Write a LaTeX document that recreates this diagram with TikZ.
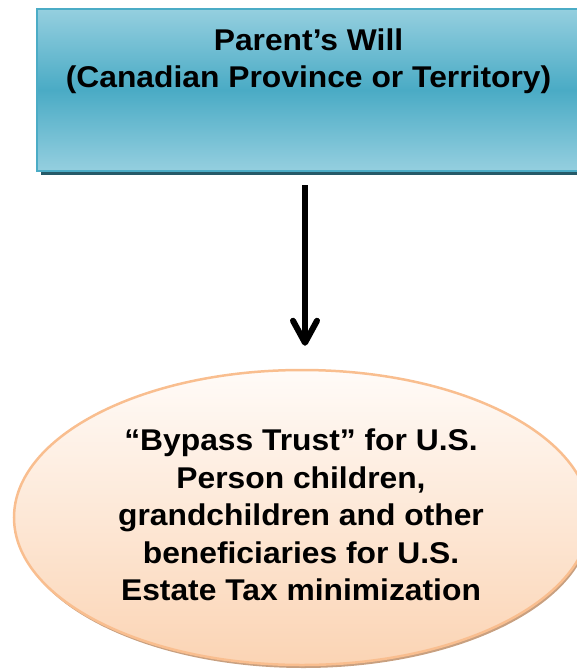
\documentclass[tikz,border=0pt]{standalone}
\usepackage{fontspec}
\setmainfont{Liberation Sans}[FakeStretch=1.06]
\usetikzlibrary{shapes.geometric,arrows.meta,shadows}
\definecolor{boxlight}{RGB}{149,207,223}
\definecolor{boxdark}{RGB}{74,171,197}
\definecolor{boxline}{RGB}{75,172,198}
\definecolor{boxshadow}{RGB}{38,90,104}
\definecolor{elltop}{RGB}{255,251,248}
\definecolor{ellbot}{RGB}{251,212,180}
\definecolor{ellline}{RGB}{249,190,143}
\definecolor{ellshadow}{RGB}{200,160,128}
\tikzset{
  txt/.style={font=\fontsize{30}{37.5}\selectfont\bfseries, align=center, text=black, inner sep=0pt},
  boxshape/.style={rectangle, draw=boxline, line width=2pt, top color=boxlight, bottom color=boxlight, middle color=boxdark, minimum width=543pt, minimum height=162pt, inner sep=0pt,
    drop shadow={shadow xshift=4pt, shadow yshift=-4pt, fill=boxshadow, opacity=1}},
  ellshape/.style={ellipse, draw=ellline, line width=2.5pt, top color=elltop, bottom color=ellbot, minimum width=576pt, minimum height=295pt, inner sep=0pt,
    drop shadow={shadow xshift=1.5pt, shadow yshift=-3pt, fill=ellshadow, opacity=1}},
  flow/.style={line width=6pt, -{Straight Barb[length=22pt,width=24pt,line cap=round,line join=round]}}
}
\begin{document}
\begin{tikzpicture}[x=1pt,y=-1pt]
\useasboundingbox (0,0) rectangle (577,669);
\begin{scope}
\clip (0,0) rectangle (577,669);
\node[boxshape] (box) at (308.5,90) {};
\node[txt] (boxtext) at (308.5,61) {Parent’s Will\\(Canadian Province or Territory)};
\node[ellshape] (ell) at (302,517.5) {};
\node[txt] (elltext) at (301,515) {“Bypass Trust” for U.S.\\Person children,\\grandchildren and other\\beneficiaries for U.S.\\Estate Tax minimization};
\coordinate (ax) at (305,0);
\draw[flow, shorten <=13pt, shorten >=23pt] (box.south -| ax) -- (ell.north -| ax);
\end{scope}
\end{tikzpicture}
\end{document}
